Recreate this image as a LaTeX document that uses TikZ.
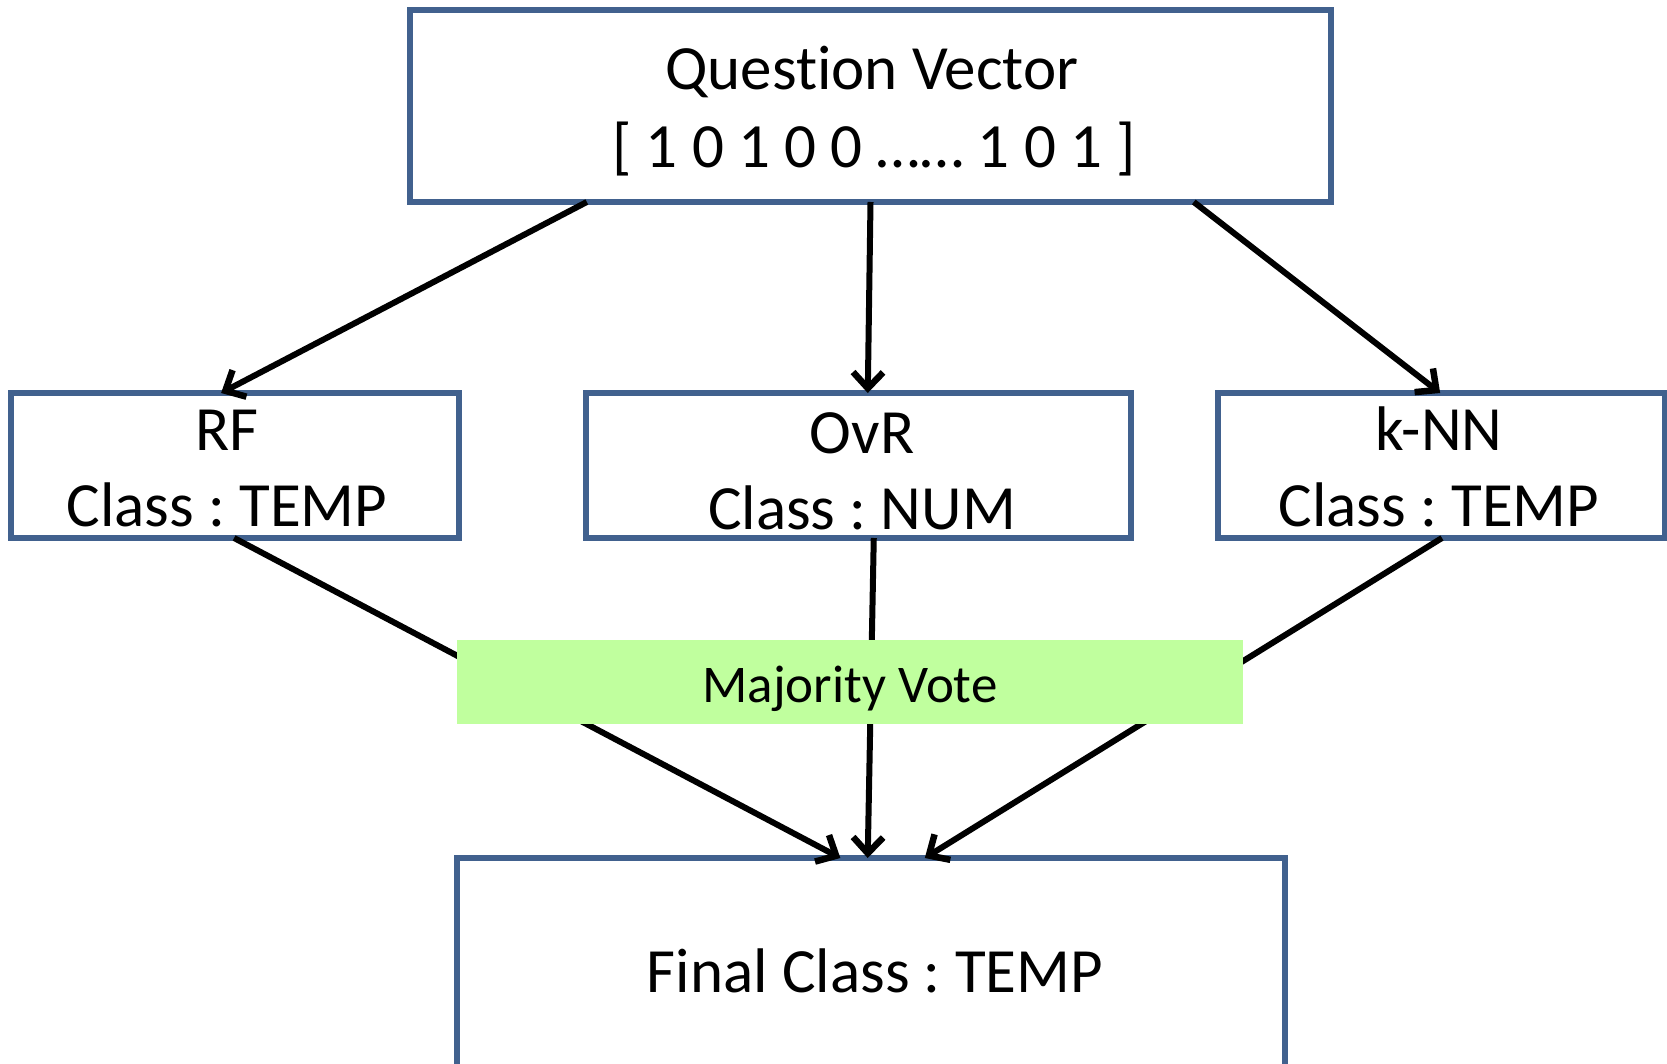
\documentclass[tikz,border=0pt]{standalone}
\usepackage{fontspec}
\setmainfont{Carlito}[Ligatures=NoCommon]
\frenchspacing
\usetikzlibrary{arrows.meta,calc}
\definecolor{boxblue}{RGB}{65,97,142}
\definecolor{votegreen}{RGB}{192,255,158}

\begin{document}
\begin{tikzpicture}[x=1pt,y=-1pt,
  box/.style={draw=boxblue,line width=6pt,fill=white,inner sep=0pt,outer sep=0pt},
  vote/.style={fill=votegreen,inner sep=0pt,outer sep=0pt},
  big/.style={anchor=base,inner sep=0pt,font=\fontsize{63}{77}\selectfont},
  mid/.style={anchor=base,inner sep=0pt,font=\fontsize{53}{64}\selectfont},
  flow/.style={line width=6pt,-{Straight Barb[length=16pt,width=30pt,line width=6.5pt]}}
]
\useasboundingbox (0,0) rectangle (1667,1064);
\clip (0,0) rectangle (1667,1064);

% boxes
\node[box,minimum width=921pt,minimum height=192pt] (qv) at (870.5,106) {};
\node[box,minimum width=448pt,minimum height=145pt] (rf) at (235,465.5) {};
\node[box,minimum width=545pt,minimum height=145pt] (ovr) at (858.5,465.5) {};
\node[box,minimum width=447pt,minimum height=145pt] (knn) at (1441.5,465.5) {};
\node[box,minimum width=828pt,minimum height=300pt] (fin) at (871,1008) {};

% texts
\node[big] (qvt1) at (872,90) {Question Vector};
\node[big] (qvt2) at (874,168) {[ 1 0 1 0 0 …… 1 0 1 ]};
\node[big] (rft1) at (227,450) {RF};
\node[big] (rft2) at (227,526) {Class : TEMP};
\node[big] (ovt1) at (862,453) {OvR};
\node[big] (ovt2) at (862,529) {Class : NUM};
\node[big] (knt1) at (1439,450) {k-NN};
\node[big] (knt2) at (1439,526) {Class : TEMP};
\node[big] (fint) at (875,992) {Final Class : TEMP};

% question vector to the three classifiers
\draw[flow] ($(qv.south west)!0.192!(qv.south east)$) -- ($(rf.north west)!0.469!(rf.north east)$);
\draw[flow] ($(qv.south west)!0.500!(qv.south east)$) -- ($(ovr.north west)!0.517!(ovr.north east)$);
\draw[flow] ($(qv.south west)!0.851!(qv.south east)$) -- ($(knn.north west)!0.497!(knn.north east)$);

% classifiers to the final class
\draw[flow] ($(rf.south west)!0.498!(rf.south east)$) -- ($(fin.north west)!0.463!(fin.north east)$);
\draw[flow] ($(ovr.south west)!0.528!(ovr.south east)$) -- ($(fin.north west)!0.496!(fin.north east)$);
\draw[flow] ($(knn.south west)!0.501!(knn.south east)$) -- ($(fin.north west)!0.565!(fin.north east)$);

% voting band over the connectors
\node[vote,minimum width=786pt,minimum height=84pt] (mv) at (850,682) {};
\node[mid] (mvt) at (850,702) {Majority Vote};
\end{tikzpicture}
\end{document}
